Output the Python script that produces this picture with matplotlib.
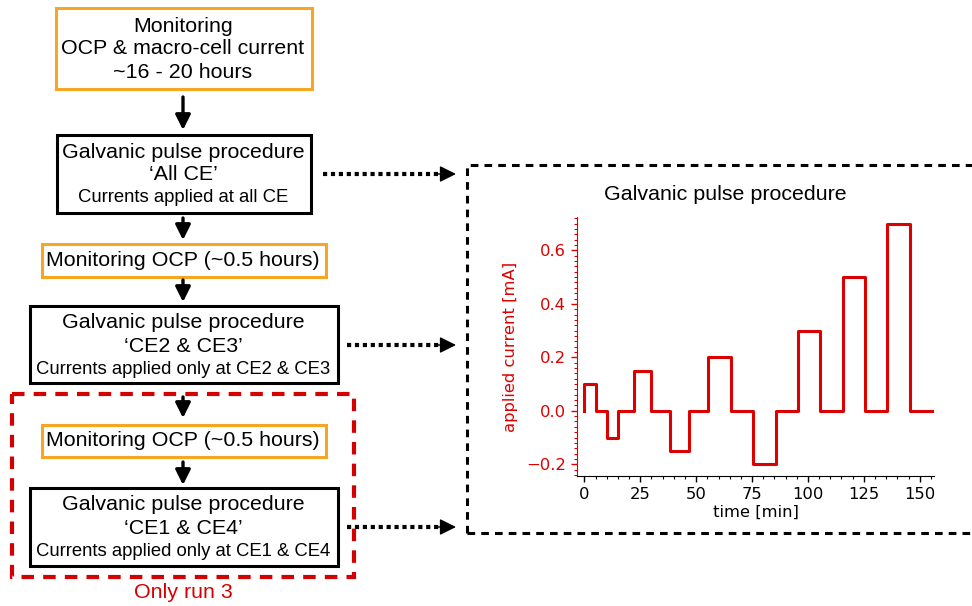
import matplotlib
matplotlib.use("Agg")
import matplotlib.pyplot as plt
from matplotlib.patches import Rectangle
from matplotlib.ticker import MultipleLocator

# ---------------- data ----------------
step_times = [0, 0, 5, 10, 15, 22, 30, 38.5, 47, 55.5, 65.5, 75.5, 85.5,
              95.5, 105.5, 115.5, 125.5, 135.5, 145.5, 156.4]
step_currents = [0, 0.1, 0, -0.1, 0, 0.15, 0, -0.15, 0, 0.2, 0, -0.2, 0,
                 0.3, 0, 0.5, 0, 0.7, 0, 0]
x_ticks = [0, 25, 50, 75, 100, 125, 150]
y_ticks = [-0.2, 0.0, 0.2, 0.4, 0.6]

box_texts = [
    ["Monitoring", "OCP & macro-cell current", "~16 - 20 hours"],
    ["Galvanic pulse procedure", "\u2018All CE\u2019", "Currents applied at all CE"],
    ["Monitoring OCP (~0.5 hours)"],
    ["Galvanic pulse procedure", "\u2018CE2 & CE3\u2019", "Currents applied only at CE2 & CE3"],
    ["Monitoring OCP (~0.5 hours)"],
    ["Galvanic pulse procedure", "\u2018CE1 & CE4\u2019", "Currents applied only at CE1 & CE4"],
]
run_label = "Only run 3"
chart_title = "Galvanic pulse procedure"
x_label = "time [min]"
y_label = "applied current [mA]"

ORANGE = "#f5a623"
RED = "#d40000"
CHART_RED = "#dd0000"
FONT = "Liberation Sans"
BIG = 15.4
SMALL = 13.3

fig = plt.figure(figsize=(9.72, 6.06), dpi=100)
ov = fig.add_axes([0, 0, 1, 1])
ov.set_xlim(0, 972)
ov.set_ylim(606, 0)
ov.axis("off")

# boxes: (x0, y0, x1, y1, color)
boxes = [
    (56, 8, 312, 89, ORANGE),
    (57, 135, 311, 213, "black"),
    (42, 244, 326, 277, ORANGE),
    (30, 306, 338, 383, "black"),
    (42, 425, 326, 457, ORANGE),
    (30, 488, 338, 566, "black"),
]
for (x0, y0, x1, y1, c) in boxes:
    ov.add_patch(Rectangle((x0, y0), x1 - x0, y1 - y0, fill=False,
                           edgecolor=c, linewidth=2.2, zorder=3))

cx = 183
line_pos = [
    [(26, BIG), (49, BIG), (73, BIG)],
    [(152, BIG), (175, BIG), (198, SMALL)],
    [(261, BIG)],
    [(323, BIG), (347, BIG), (370, SMALL)],
    [(441, BIG)],
    [(504, BIG), (528, BIG), (551, SMALL)],
]
for texts, pos in zip(box_texts, line_pos):
    for t, (y, fs) in zip(texts, pos):
        ov.text(cx, y, t, ha="center", va="center", fontsize=fs,
                family=FONT, color="black", zorder=4)

# downward arrows
arrows = [(97, 130), (218, 240), (280, 302), (397, 418), (462, 485)]
for (ya, yb) in arrows:
    ov.annotate("", xy=(cx, yb), xytext=(cx, ya),
                arrowprops=dict(arrowstyle="-|>,head_length=0.9,head_width=0.45",
                                color="black", lw=2.4, shrinkA=0, shrinkB=0))

# red dashed box
ov.add_patch(Rectangle((12, 394), 354 - 12, 577 - 394, fill=False,
                       edgecolor=RED, linewidth=3, linestyle=(0, (3, 2.2)), zorder=5))
ov.text(cx, 593, run_label, ha="center", va="center", fontsize=BIG,
        family=FONT, color=RED)

# dotted arrows to chart
for (xa, y) in [(323, 174), (347, 345), (347, 527)]:
    ov.plot([xa, 440], [y, y], color="black", lw=3, linestyle=(0, (1, 0.9)),
            solid_capstyle="butt", dash_capstyle="butt")
    ov.annotate("", xy=(456, y), xytext=(436, y),
                arrowprops=dict(arrowstyle="-|>,head_length=1.0,head_width=0.5",
                                color="black", lw=1, shrinkA=0, shrinkB=0))

# dashed chart frame
ov.plot([467, 467, 972], [533, 165, 165], color="black", lw=2.2,
        linestyle=(0, (2.5, 2)))
ov.plot([467, 972], [533, 533], color="black", lw=2.2, linestyle=(0, (2.5, 2)))

ov.text(725, 195, chart_title, ha="center", va="center", fontsize=BIG,
        family=FONT, color="black")

# ---------------- chart ----------------
ax = fig.add_axes([577 / 972, 1 - 476 / 606, (934 - 577) / 972, (476 - 217) / 606])
ax.plot(step_times, step_currents, drawstyle="steps-post", color=CHART_RED, lw=2.2)
ax.set_xlim(-3.3, 156.4)
ax.set_ylim(-0.244, 0.725)
ax.set_xticks(x_ticks)
ax.set_yticks(y_ticks)
ax.xaxis.set_minor_locator(MultipleLocator(5))
ax.yaxis.set_minor_locator(MultipleLocator(0.02))
for s in ["top", "right"]:
    ax.spines[s].set_visible(False)
ax.spines["left"].set_color(CHART_RED)
ax.spines["bottom"].set_color("black")
ax.tick_params(axis="y", which="both", colors=CHART_RED, labelsize=11.8)
ax.tick_params(axis="x", which="both", colors="black", labelsize=11.8)
ax.tick_params(which="major", length=4.5, width=1)
ax.tick_params(which="minor", length=2.5, width=0.8)
ax.set_xlabel(x_label, fontsize=11.8, labelpad=2)
ax.set_ylabel(y_label, fontsize=11.8, color=CHART_RED, labelpad=6)
ax.patch.set_alpha(0)

fig.savefig("out.png", dpi=100)
